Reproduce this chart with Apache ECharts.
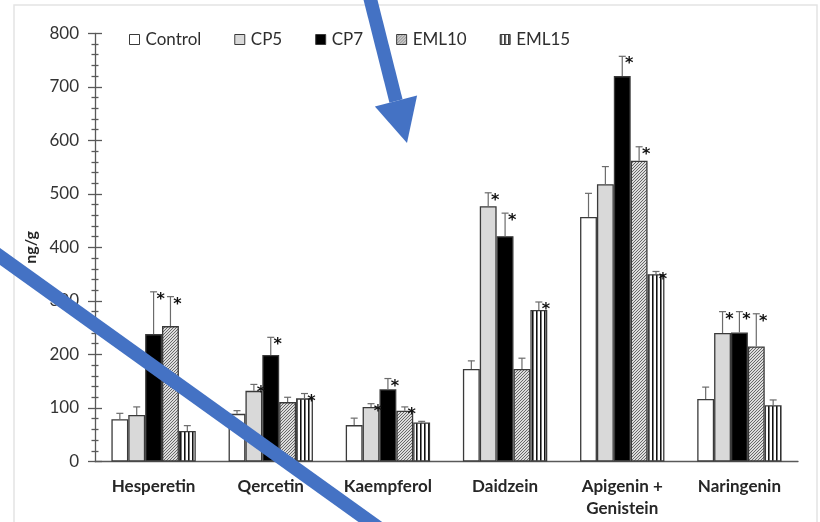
<!DOCTYPE html>
<html>
<head>
<meta charset="utf-8">
<script src="https://cdn.jsdelivr.net/npm/echarts@6/dist/echarts.min.js"></script>
<style>
  html, body { margin: 0; padding: 0; background: #ffffff; }
  #chart { width: 820px; height: 522px; }
</style>
</head>
<body>
<div id="chart"></div>
<script>
// Flavonoid content (ng/g) per treatment group
const categories = ['Hesperetin', 'Qercetin', 'Kaempferol', 'Daidzein', 'Apigenin +\nGenistein', 'Naringenin'];
const groups = ['Control', 'CP5', 'CP7', 'EML10', 'EML15'];

const control = [79, 89, 68, 173, 457, 117];
const cp5     = [87, 132, 102, 477, 518, 240];
const cp7     = [238, 199, 135, 421, 720, 241];
const eml10   = [253, 111, 95, 173, 562, 215];
const eml15   = [57, 118, 73, 283, 350, 105];

// upper error (SD)
const controlErr = [11, 6, 13, 15, 44, 22];
const cp5Err     = [15, 12, 6, 25, 33, 40];
const cp7Err     = [79, 33, 20, 43, 37, 39];
const eml10Err   = [55, 9, 7, 20, 26, 61];
const eml15Err   = [10, 9, 2, 15, 5, 10];

// significance vs. control (1 = marked with *)
const controlSig = [0, 0, 0, 0, 0, 0];
const cp5Sig     = [0, 1, 1, 1, 0, 1];
const cp7Sig     = [1, 1, 1, 1, 1, 1];
const eml10Sig   = [1, 0, 1, 0, 1, 1];
const eml15Sig   = [0, 1, 0, 1, 1, 0];

const yTicks = [0, 100, 200, 300, 400, 500, 600, 700, 800];

const values = [control, cp5, cp7, eml10, eml15];
const errors = [controlErr, cp5Err, cp7Err, eml10Err, eml15Err];
const sigs = [controlSig, cp5Sig, cp7Sig, eml10Sig, eml15Sig];

// fill patterns
function hatchPattern() {
  const c = document.createElement('canvas');
  c.width = 3; c.height = 3;
  const g = c.getContext('2d');
  g.fillStyle = '#dcdcdc';
  g.fillRect(0, 0, 3, 3);
  g.strokeStyle = '#5a5a5a';
  g.lineWidth = 0.9;
  g.beginPath();
  g.moveTo(-1, 4); g.lineTo(4, -1);
  g.moveTo(-1, 1); g.lineTo(1, -1);
  g.moveTo(2, 4); g.lineTo(4, 2);
  g.stroke();
  return c;
}
function stripePattern() {
  const c = document.createElement('canvas');
  c.width = 4; c.height = 4;
  const g = c.getContext('2d');
  g.fillStyle = '#ffffff';
  g.fillRect(0, 0, 4, 4);
  g.fillStyle = '#111111';
  g.fillRect(0, 0, 1, 4);
  g.fillStyle = '#777777';
  g.fillRect(1, 0, 1, 4);
  return c;
}

const fills = [
  '#ffffff',
  '#d9d9d9',
  '#000000',
  { image: hatchPattern(), repeat: 'repeat' },
  { image: stripePattern(), repeat: 'repeat' }
];

const GAP = 0.28;
const axisColor = '#595959';
const font = 'Lato, "Open Sans", sans-serif';

const barSeries = groups.map((name, i) => ({
  name: name,
  type: 'bar',
  data: values[i],
  barGap: '0%',
  barCategoryGap: (GAP * 100) + '%',
  itemStyle: { color: fills[i], borderColor: '#3a3a3a', borderWidth: 1.3 },
  emphasis: { disabled: true }
}));

const errData = [];
groups.forEach((g, s) => {
  categories.forEach((c, k) => {
    errData.push([k, s, values[s][k], errors[s][k], sigs[s][k]]);
  });
});

const errSeries = {
  type: 'custom',
  z: 5,
  silent: true,
  encode: { x: 0, y: 2 },
  data: errData,
  renderItem: function (params, api) {
    const cat = api.value(0), s = api.value(1), v = api.value(2), e = api.value(3), sig = api.value(4);
    const band = api.size([1, 0])[0];
    const bw = band * (1 - GAP) / groups.length;
    const base = api.coord([cat, v]);
    const top = api.coord([cat, v + e]);
    const x = base[0] + (s - (groups.length - 1) / 2) * bw;
    const children = [
      { type: 'line', shape: { x1: x, y1: base[1], x2: x, y2: top[1] }, style: { stroke: '#6b6b6b', lineWidth: 1.2 } },
      { type: 'line', shape: { x1: x - 3.5, y1: top[1], x2: x + 3.5, y2: top[1] }, style: { stroke: '#6b6b6b', lineWidth: 1.2 } }
    ];
    if (sig) {
      children.push({
        type: 'text',
        style: {
          x: x + 7, y: top[1] + 8, text: '*',
          fill: '#111111', font: 'bold 16px "DejaVu Sans", sans-serif',
          textAlign: 'center', textVerticalAlign: 'middle'
        }
      });
    }
    return { type: 'group', children: children };
  }
};

const chart = echarts.init(document.getElementById('chart'), null, { renderer: 'canvas' });

chart.setOption({
  backgroundColor: '#ffffff',
  animation: false,
  legend: {
    data: groups,
    left: 129,
    top: 31,
    padding: 0,
    itemWidth: 10,
    itemHeight: 10,
    itemGap: 33,
    icon: 'rect',
    textStyle: { fontFamily: font, fontSize: 17, color: '#2e2e2e', padding: [0, 0, 0, 1] },
    itemStyle: { borderColor: '#3a3a3a', borderWidth: 1 }
  },
  grid: { left: 95, right: 22, top: 33.3, bottom: 60.5, containLabel: false },
  xAxis: {
    type: 'category',
    data: categories,
    axisLine: { lineStyle: { color: axisColor, width: 1.3 } },
    axisTick: { show: false },
    axisLabel: {
      fontFamily: font, fontWeight: 'bold', fontSize: 17, color: '#262626',
      margin: 14, lineHeight: 22, interval: 0
    }
  },
  yAxis: [
    {
      type: 'value',
      min: yTicks[0], max: yTicks[yTicks.length - 1], interval: 100,
      name: 'ng/g',
      nameLocation: 'middle',
      nameGap: 56,
      nameRotate: 90,
      nameTextStyle: { fontFamily: font, fontWeight: 'bold', fontSize: 16, color: '#262626' },
      axisLine: { show: true, lineStyle: { color: axisColor, width: 1.3 } },
      axisTick: { show: true, length: 7, lineStyle: { color: axisColor, width: 1.3 } },
      minorTick: { show: true, splitNumber: 5, length: 3.5, lineStyle: { color: axisColor, width: 1.3 } },
      splitLine: { show: false },
      axisLabel: { fontFamily: font, fontSize: 17, color: '#333333', margin: 16 }
    },
    {
      type: 'value',
      position: 'left',
      min: yTicks[0], max: yTicks[yTicks.length - 1], interval: 100,
      axisLine: { show: false },
      axisTick: { show: true, inside: true, length: 7, lineStyle: { color: axisColor, width: 1.3 } },
      minorTick: { show: true, splitNumber: 5, length: 3.5, lineStyle: { color: axisColor, width: 1.3 } },
      splitLine: { show: false },
      axisLabel: { show: false }
    }
  ],
  series: barSeries.concat([errSeries]),
  graphic: [
    // frame of the chart area
    { type: 'rect', z: 0, silent: true, shape: { x: 14, y: 5, width: 803, height: 540 },
      style: { fill: 'none', stroke: '#e4e4e4', lineWidth: 1.5 } },
    // blue pointer arrow
    { type: 'line', z: 100, silent: true, shape: { x1: 368, y1: -10, x2: 396, y2: 101 },
      style: { stroke: '#4472C4', lineWidth: 13.5 } },
    { type: 'polygon', z: 100, silent: true, shape: { points: [[374.9, 106.4], [417.1, 95.6], [407, 143]] },
      style: { fill: '#4472C4' } },
    // blue diagonal stroke
    { type: 'line', z: 100, silent: true, shape: { x1: -20, y1: 242.2, x2: 420, y2: 557.6 },
      style: { stroke: '#4472C4', lineWidth: 13.8 } }
  ]
});
</script>
</body>
</html>
